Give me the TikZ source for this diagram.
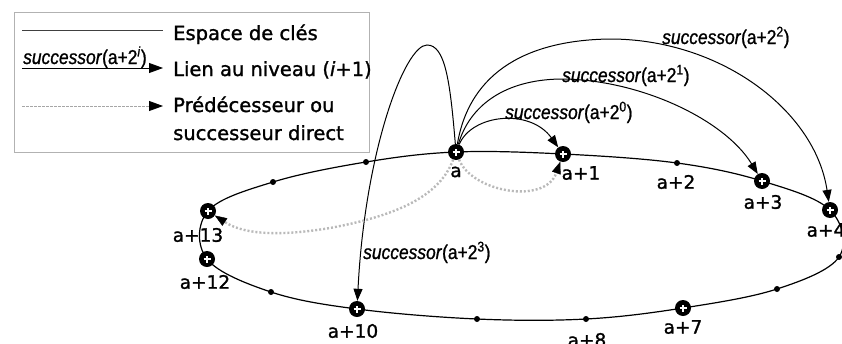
\documentclass[tikz,border=0pt]{standalone}
\usepackage{fontspec}
\setmainfont{DejaVu Sans}[FakeBold=1.3]
\newfontfamily\succfont[FakeStretch=0.87,FakeBold=1]{Liberation Sans}
\usetikzlibrary{arrows.meta}
\tikzset{
  ring/.style={line width=1.2pt},
  bignode/.style={circle, fill=black, minimum size=16pt, inner sep=0pt,
    path picture={\draw[white, line width=1.6pt]
      ([xshift=-3.5pt]path picture bounding box.center) -- ([xshift=3.5pt]path picture bounding box.center)
      ([yshift=-3.5pt]path picture bounding box.center) -- ([yshift=3.5pt]path picture bounding box.center);}},
  smalldot/.style={circle, fill=black, minimum size=6pt, inner sep=0pt},
  lbl/.style={font=\fontsize{18.5}{20}\selectfont, inner sep=0pt},
  link/.style={line width=1pt, -{Triangle[length=12pt,width=9pt]}},
  direct/.style={draw=gray!55, line width=2.4pt, dash pattern=on 2pt off 2pt,
    -{Triangle[length=12pt,width=9pt,line width=0.4pt,color=black,fill=black]}},
  succ/.style={font=\succfont\fontsize{20}{22}\selectfont, inner sep=0pt, anchor=base west},
  legtext/.style={font=\fontsize{19.5}{22}\selectfont, inner sep=0pt, anchor=base west},
}
\newcommand{\succlabel}[1]{\textit{successor}(a+2\textsuperscript{#1})}
\begin{document}
\begin{tikzpicture}[x=1pt, y=-1pt]
\useasboundingbox (0,0) rectangle (842,343);

% key space ring
\draw[ring] plot[smooth cycle, tension=0.6] coordinates {
  (456,152) (563,154) (677,163) (762,181) (830,210) (839,257) (777,289) (683,308)
  (586,319) (477,319) (357,309) (271,292) (207,259) (208,211) (273,182) (366,162)};

% nodes
\node[bignode] (n0) at (456,152) {};
\node[bignode] (n1) at (563,154) {};
\node[smalldot] (n2) at (677,163) {};
\node[bignode] (n3) at (762,181) {};
\node[bignode] (n4) at (830,210) {};
\node[smalldot] (n5) at (839,257) {};
\node[smalldot] (n6) at (777,289) {};
\node[bignode] (n7) at (683,308) {};
\node[smalldot] (n8) at (586,319) {};
\node[smalldot] (n9) at (477,319) {};
\node[bignode] (n10) at (357,309) {};
\node[smalldot] (n11) at (271,292) {};
\node[bignode] (n12) at (207,259) {};
\node[bignode] (n13) at (208,211) {};
\node[smalldot] (n14) at (273,182) {};
\node[smalldot] (n15) at (366,162) {};

% labels
\node[lbl] (l0) at (456,172) {a};
\node[lbl] (l1) at (581,173) {a+1};
\node[lbl] (l2) at (676,182) {a+2};
\node[lbl] (l3) at (763,202) {a+3};
\node[lbl] (l4) at (826,230) {a+4};
\node[lbl] (l7) at (683,327) {a+7};
\node[lbl] (l8) at (587,340) {a+8};
\node[lbl] (l10) at (353,331) {a+10};
\node[lbl] (l12) at (205,282) {a+12};
\node[lbl] (l13) at (198,235) {a+13};

% finger links
\draw[link] (n0) .. controls (472,114) and (530,108) .. (n1);
\draw[link] (n0) .. controls (470,105) and (505,80) .. (560,79)
                 .. controls (640,79) and (725,120) .. (n3);
\draw[link] (n0) .. controls (470,70) and (530,40) .. (610,39)
                 .. controls (720,39) and (815,110) .. (n4);
\draw[link] (n0) .. controls (450,80) and (445,45) .. (427,45)
                 .. controls (405,45) and (365,150) .. (n10);

\node[succ] (s0) at (505,119) {\succlabel{0}};
\node[succ] (s1) at (562,82) {\succlabel{1}};
\node[succ] (s2) at (662,44) {\succlabel{2}};
\node[succ] (s3) at (363,259) {\succlabel{3}};

% predecessor / direct successor
\draw[direct] (n0) .. controls (472,192) and (545,205) .. (n1);
\draw[direct] (n0) .. controls (440,195) and (400,215) .. (330,228)
                   .. controls (270,238) and (240,232) .. (n13);

% legend
\node[draw=gray!60, line width=0.8pt, minimum width=355pt, minimum height=140pt, inner sep=0pt, anchor=north west] (legend) at (14,12) {};
\coordinate (k1a) at (22,30);  \coordinate (k1b) at (163,30);
\coordinate (k2a) at (22,68);  \coordinate (k2b) at (163,68);
\coordinate (k3a) at (22,106); \coordinate (k3b) at (163,106);
\draw[black!75, line width=0.8pt] (k1a) -- (k1b);
\draw[line width=0.8pt, -{Triangle[length=14pt,width=10pt]}] (k2a) -- (k2b);
\draw[gray!70, line width=0.8pt, dash pattern=on 2.5pt off 1.5pt,
  -{Triangle[length=14pt,width=10pt,color=black,fill=black]}] (k3a) -- (k3b);
\node[succ] (ls) at (23,64) {\textit{successor}(a+2\textsuperscript{\textit{i}})};
\node[legtext] (t1) at (173,40) {Espace de clés};
\node[legtext] (t2) at (173,76) {Lien au niveau (\textit{i}+1)};
\node[legtext] (t3) at (173,112) {Prédécesseur ou};
\node[legtext] (t4) at (173,140) {successeur direct};
\end{tikzpicture}
\end{document}
